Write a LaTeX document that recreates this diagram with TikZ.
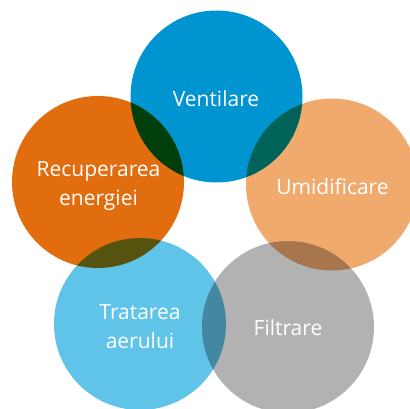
\documentclass[tikz,border=0pt]{standalone}
\usepackage{fontspec}
\setmainfont{Open Sans}
\definecolor{cblue}{HTML}{0095D0}
\definecolor{corange}{HTML}{E26D0F}
\definecolor{clorange}{HTML}{F0AA6E}
\definecolor{clblue}{HTML}{60C4E8}
\definecolor{cgray}{HTML}{B2B2B2}
\tikzset{
  bubble/.style={circle, minimum size=172pt, inner sep=0pt, fill=#1},
  lbl/.style={text=white, font=\fontsize{21}{29}\selectfont, align=center, inner sep=0pt}
}
\begin{document}
\begin{tikzpicture}[x=1pt,y=-1pt]
\useasboundingbox (0,0) rectangle (410,409);
\begin{scope}
\clip (0,0) rectangle (410,409);
\begin{scope}[blend group=multiply]
\node[bubble=cblue] (ven) at (216.5,96.5) {};
\node[bubble=corange] (rec) at (98,182) {};
\node[bubble=clorange] (umi) at (332,184.5) {};
\node[bubble=clblue] (tra) at (140,324) {};
\node[bubble=cgray] (fil) at (288,327) {};
\end{scope}
\end{scope}
\node[lbl] (tven) at (216,99) {Ventilare};
\node[lbl] (trec) at (98.5,186) {Recuperarea\\energiei};
\node[lbl] (tumi) at (332.5,187) {Umidificare};
\node[lbl] (ttra) at (140,327) {Tratarea\\aerului};
\node[lbl] (tfil) at (288,327.5) {Filtrare};
\end{tikzpicture}
\end{document}
